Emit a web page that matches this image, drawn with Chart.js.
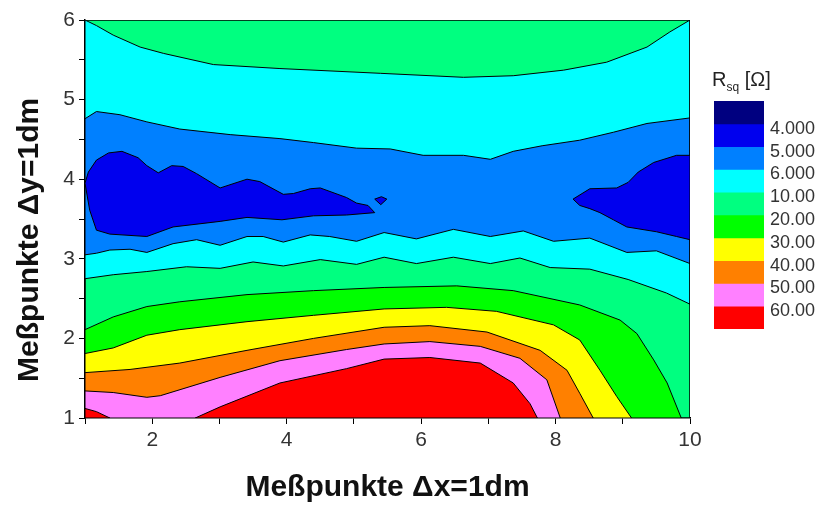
<!DOCTYPE html>
<html>
<head>
<meta charset="utf-8">
<script src="https://cdn.jsdelivr.net/npm/chart.js@4/dist/chart.umd.min.js"></script>
<style>
  body { margin: 0; background: #fff; }
  #wrap { position: relative; width: 821px; height: 506px; }
  #contour { position: absolute; left: 0; top: 0; }
  #scaleBar { position: absolute; left: 700px; top: 95px; }
  #barTitle { position: absolute; left: 712px; top: 68px; font: 20px "Liberation Sans", Arial, sans-serif; color: #222; }
  #barTitle sub { font-size: 12px; }
</style>
</head>
<body>
<div id="wrap">
  <canvas id="contour" width="821" height="506"></canvas>
  <div id="barTitle">R<sub>sq</sub> [Ω]</div>
  <canvas id="scaleBar" width="121" height="245"></canvas>
</div>
<script>
// tick labels
const xTickLabels = [2, 4, 6, 8, 10];
const yTickLabels = [1, 2, 3, 4, 5, 6];

// colour scale (top of the bar first) and the level values between the boxes
const levelLabels = ["4.000", "5.000", "6.000", "10.00", "20.00", "30.00", "40.00", "50.00", "60.00"];
const levelColors = ["#000080", "#0000EE", "#0080FF", "#00FFFF", "#00FF80", "#00FF00", "#FFFF00", "#FF8000", "#FF80FF", "#FF0000"];

// contour lines, [x, y]
const c10Top = [[1, 6.0], [1.17, 5.93], [1.42, 5.81], [1.82, 5.66], [2.17, 5.58], [2.91, 5.44], [3.9, 5.39], [5.4, 5.33], [6.63, 5.28], [7.37, 5.30], [8.12, 5.37], [8.76, 5.47], [9.36, 5.66], [9.7, 5.85], [10, 6.0]];
const c6Top = [[1, 4.76], [1.17, 4.85], [1.52, 4.81], [1.92, 4.72], [2.41, 4.63], [3.16, 4.56], [3.9, 4.51], [4.4, 4.46], [5.04, 4.39], [5.54, 4.38], [6.03, 4.30], [6.63, 4.30], [7.03, 4.25], [7.37, 4.35], [7.8, 4.42], [8.36, 4.49], [8.86, 4.59], [9.36, 4.70], [10, 4.77]];
const c6Bot = [[1, 3.05], [1.17, 3.07], [1.37, 3.11], [1.67, 3.12], [1.92, 3.08], [2.31, 3.19], [2.66, 3.24], [3.01, 3.17], [3.41, 3.28], [3.65, 3.28], [3.95, 3.21], [4.35, 3.30], [4.64, 3.28], [5.04, 3.22], [5.45, 3.33], [5.93, 3.25], [6.48, 3.37], [7.03, 3.28], [7.52, 3.35], [7.97, 3.22], [8.51, 3.26], [9.06, 3.08], [9.5, 3.10], [10, 2.94]];
const c10Bot = [[1, 2.75], [1.42, 2.80], [1.92, 2.84], [2.51, 2.90], [3.01, 2.88], [3.5, 2.96], [3.95, 2.91], [4.5, 2.99], [5.04, 2.93], [5.45, 3.02], [5.93, 2.94], [6.48, 3.02], [7.03, 2.94], [7.47, 3.01], [7.92, 2.89], [8.51, 2.87], [9.08, 2.74], [9.65, 2.57], [10, 2.43]];
const c20 = [[1, 2.11], [1.42, 2.27], [1.92, 2.40], [2.41, 2.46], [3.41, 2.55], [4.4, 2.60], [5.45, 2.64], [6.53, 2.66], [7.37, 2.60], [8.36, 2.42], [8.96, 2.23], [9.21, 2.06], [9.46, 1.73], [9.66, 1.44], [9.87, 1.0]];
const c30 = [[1, 1.81], [1.42, 1.88], [1.92, 2.04], [2.41, 2.11], [3.41, 2.21], [4.4, 2.29], [5.45, 2.37], [6.38, 2.39], [7.12, 2.34], [7.97, 2.17], [8.36, 1.98], [8.66, 1.60], [8.91, 1.27], [9.13, 1.0]];
const c40 = [[1, 1.57], [1.67, 1.61], [2.41, 1.69], [3.41, 1.85], [4.4, 2.00], [5.45, 2.14], [6.13, 2.16], [6.98, 2.08], [7.77, 1.85], [8.17, 1.60], [8.36, 1.31], [8.56, 1.0]];
const c50 = [[1, 1.34], [1.42, 1.32], [1.92, 1.26], [2.12, 1.28], [3.01, 1.51], [3.9, 1.72], [4.89, 1.86], [5.45, 1.93], [6.13, 1.96], [6.88, 1.90], [7.47, 1.75], [7.87, 1.48], [8.07, 1.0]];
const c60 = [[2.64, 1.0], [3.01, 1.14], [3.9, 1.44], [4.89, 1.62], [5.45, 1.74], [6.13, 1.76], [6.88, 1.69], [7.37, 1.44], [7.62, 1.18], [7.73, 1.0]];
const c60Corner = [[1, 1.12], [1.17, 1.08], [1.37, 1.0]];
const blobLeft = [[1, 3.95], [1.05, 4.09], [1.17, 4.24], [1.35, 4.33], [1.55, 4.35], [1.79, 4.27], [1.92, 4.17], [2.09, 4.08], [2.29, 4.17], [2.46, 4.16], [2.66, 4.07], [3.01, 3.89], [3.41, 4.00], [3.6, 3.97], [3.95, 3.81], [4.1, 3.82], [4.35, 3.88], [4.5, 3.89], [4.89, 3.77], [5.04, 3.70], [5.21, 3.67], [5.31, 3.58], [4.89, 3.55], [4.4, 3.54], [3.93, 3.49], [3.41, 3.52], [3.01, 3.47], [2.31, 3.40], [1.92, 3.28], [1.37, 3.31], [1.17, 3.36], [1.07, 3.61]];
const blobMid = [[5.31, 3.75], [5.41, 3.78], [5.49, 3.75], [5.40, 3.68]];
const blobRight = [[10, 4.30], [9.8, 4.30], [9.46, 4.21], [9.23, 4.09], [9.08, 3.96], [8.91, 3.89], [8.51, 3.88], [8.26, 3.75], [8.36, 3.67], [8.51, 3.63], [8.66, 3.58], [8.86, 3.49], [9.06, 3.40], [9.5, 3.34], [9.8, 3.28], [10, 3.24]];
const plotBox = [[1, 1], [10, 1], [10, 6], [1, 6]];
const cornerBL = [[1, 1]];
const edgeTR = [[10, 2.43]];

// join pieces into one closed outline
const poly = (...parts) => {
    const pts = parts.flat();
    pts.push(pts[0]);
    return pts.map(([x, y]) => ({ x, y }));
};

const region = (points, color) => ({
    data: points,
    showLine: true,
    fill: "shape",
    backgroundColor: color,
    borderColor: "#000",
    borderWidth: 1,
    pointRadius: 0,
    tension: 0
});

// first dataset is painted on top
const layers = [
    region(poly(blobMid), levelColors[1]),
    region(poly(blobLeft), levelColors[1]),
    region(poly(blobRight), levelColors[1]),
    region(poly(c6Top, [...c6Bot].reverse()), levelColors[2]),
    region(poly(c10Top, edgeTR, [...c10Bot].reverse()), levelColors[3]),
    region(poly(c60Corner, cornerBL), levelColors[9]),
    region(poly(c60), levelColors[9]),
    region(poly(c50, cornerBL), levelColors[8]),
    region(poly(c40, cornerBL), levelColors[7]),
    region(poly(c30, cornerBL), levelColors[6]),
    region(poly(c20, cornerBL), levelColors[5]),
    region(poly(plotBox), levelColors[4])
];
layers[layers.length - 1].borderWidth = 1.5;

const tickFont = { family: "'Liberation Sans', Arial, sans-serif", size: 21 };
const titleFont = { family: "'Liberation Sans', Arial, sans-serif", size: 30, weight: "bold" };

new Chart(document.getElementById("contour"), {
    type: "scatter",
    data: { datasets: layers },
    options: {
        responsive: false,
        animation: false,
        events: [],
        layout: { padding: { top: 20, right: 131, left: 0, bottom: 0 } },
        plugins: { legend: { display: false }, tooltip: { enabled: false } },
        scales: {
            x: {
                type: "linear",
                min: 1,
                max: 10,
                afterFit: (s) => { s.height = 88; },
                ticks: {
                    stepSize: 1,
                    autoSkip: false,
                    maxRotation: 0,
                    padding: 4,
                    color: "#333",
                    font: tickFont,
                    callback: (v) => xTickLabels.includes(v) ? String(v) : ""
                },
                grid: { drawOnChartArea: false, tickLength: 6, tickColor: "#000" },
                border: { color: "#000", width: 1.5 },
                title: { display: true, text: "Meßpunkte Δx=1dm", color: "#111", font: titleFont, padding: { top: 0, bottom: 0 } }
            },
            y: {
                type: "linear",
                min: 1,
                max: 6,
                afterFit: (s) => { s.width = 85; },
                ticks: {
                    stepSize: 0.5,
                    autoSkip: false,
                    padding: 4,
                    color: "#333",
                    font: tickFont,
                    callback: (v) => yTickLabels.includes(v) ? String(v) : ""
                },
                grid: { drawOnChartArea: false, tickLength: 6, tickColor: "#000" },
                border: { color: "#000", width: 1.5 },
                title: { display: true, text: "Meßpunkte Δy=1dm     ", color: "#111", font: titleFont, padding: { top: 12, bottom: 0 } }
            }
        }
    }
});

// colour bar: one stacked box per level band
new Chart(document.getElementById("scaleBar"), {
    type: "bar",
    data: {
        labels: [""],
        datasets: levelColors.map((c) => ({
            data: [1],
            backgroundColor: c,
            borderWidth: 0,
            barPercentage: 1,
            categoryPercentage: 1
        }))
    },
    options: {
        responsive: false,
        animation: false,
        events: [],
        layout: { padding: { top: 6, left: 14, bottom: 11, right: 0 } },
        plugins: { legend: { display: false }, tooltip: { enabled: false } },
        scales: {
            x: { display: false, stacked: true },
            y: {
                stacked: true,
                reverse: true,
                min: 0,
                max: 10,
                position: "right",
                afterFit: (s) => { s.width = 57; s.paddingTop = 0; s.paddingBottom = 0; },
                grid: { display: false, drawTicks: false },
                border: { display: false },
                ticks: {
                    stepSize: 1,
                    autoSkip: false,
                    padding: 6,
                    labelOffset: 5,
                    color: "#333",
                    font: { family: "'Liberation Sans', Arial, sans-serif", size: 18 },
                    callback: (v) => levelLabels[v - 1] || ""
                }
            }
        }
    }
});
</script>
</body>
</html>
